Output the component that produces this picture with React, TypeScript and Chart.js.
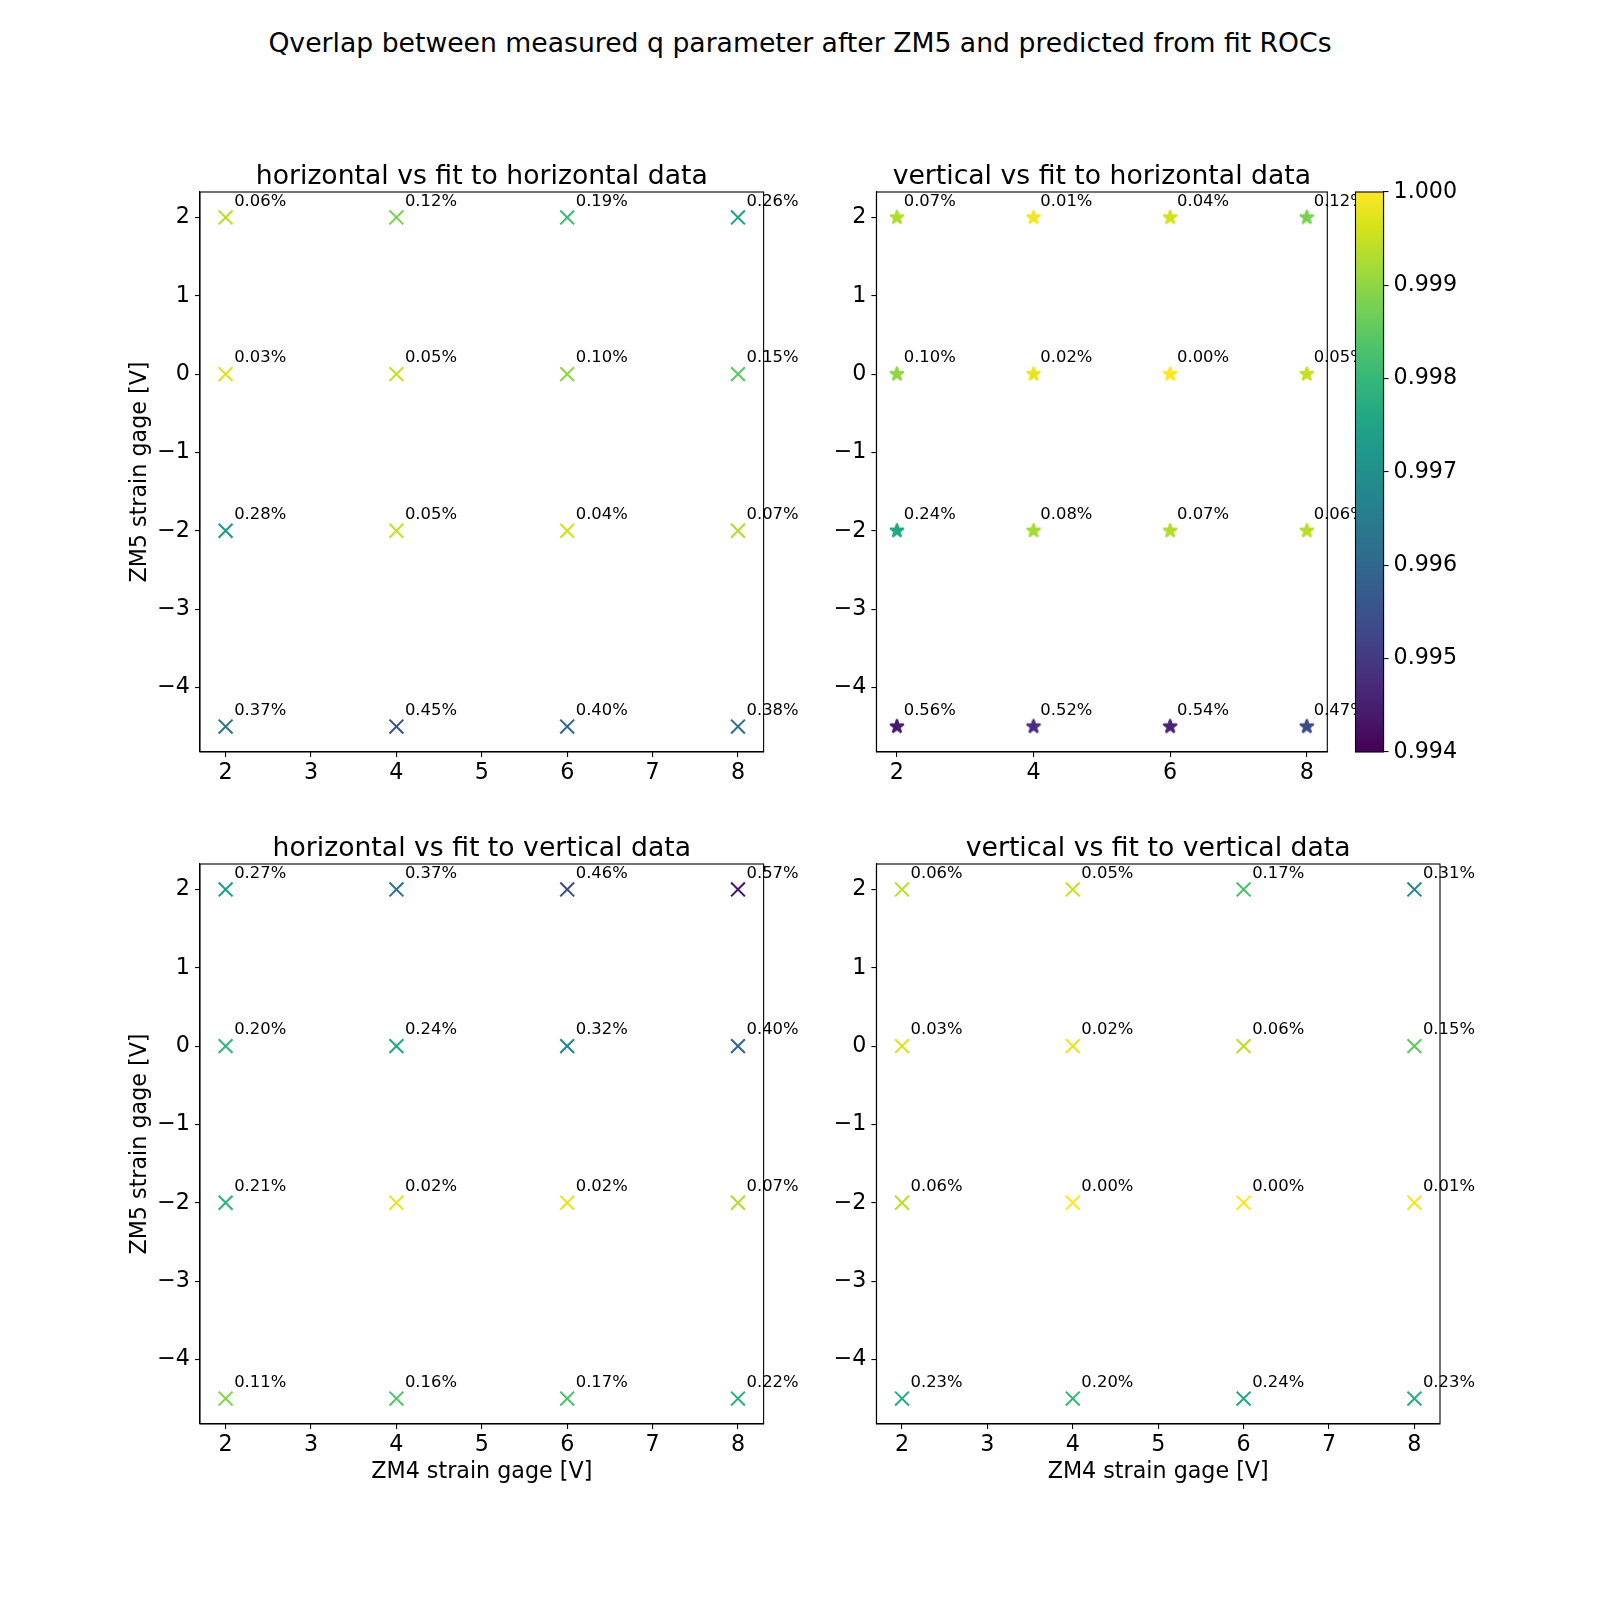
import React, { useEffect, useRef } from 'react';
import { Chart, registerables } from 'chart.js';

Chart.register(...registerables);

// ---------------- data ----------------
const xPositions = [2, 4, 6, 8];
const yPositions = [2, 0, -2, -4.5];

// percent deviation of overlap (1 - overlap) * 100, rows follow yPositions, columns follow xPositions
const hFitH = [
  [0.06, 0.12, 0.19, 0.26],
  [0.03, 0.05, 0.1, 0.15],
  [0.28, 0.05, 0.04, 0.07],
  [0.37, 0.45, 0.4, 0.38],
];
const vFitH = [
  [0.07, 0.01, 0.04, 0.12],
  [0.1, 0.02, 0.0, 0.05],
  [0.24, 0.08, 0.07, 0.06],
  [0.56, 0.52, 0.54, 0.47],
];
const hFitV = [
  [0.27, 0.37, 0.46, 0.57],
  [0.2, 0.24, 0.32, 0.4],
  [0.21, 0.02, 0.02, 0.07],
  [0.11, 0.16, 0.17, 0.22],
];
const vFitV = [
  [0.06, 0.05, 0.17, 0.31],
  [0.03, 0.02, 0.06, 0.15],
  [0.06, 0.0, 0.0, 0.01],
  [0.23, 0.2, 0.24, 0.23],
];

const xTicksFull = [2, 3, 4, 5, 6, 7, 8];
const xTicksEven = [2, 4, 6, 8];
const yTicks = [-4, -3, -2, -1, 0, 1, 2];
const cbTicks = [0.994, 0.995, 0.996, 0.997, 0.998, 0.999, 1.0];

const X_MIN = 1.7;
const X_MAX = 8.3;
const Y_MIN = -4.825;
const Y_MAX = 2.325;
const C_MIN = 0.994;
const C_MAX = 1.0;

const SUPTITLE = 'Qverlap between measured q parameter after ZM5 and predicted from fit ROCs';
const X_LABEL = 'ZM4 strain gage [V]';
const Y_LABEL = 'ZM5 strain gage [V]';

// ---------------- styling ----------------
const FAMILY = "'DejaVu Sans', sans-serif";
const TICK_PX = 22.22;
const TITLE_PX = 26.67;
const LABEL_PX = 22.22;
const ANNOT_PX = 16.4;
const LINE_W = 1.1;
const ANNOT_DX = 0.1;
const ANNOT_DY = 0.15;

const VIRIDIS = [
  '#440154', '#481a6c', '#472f7d', '#414487', '#39568c', '#31688e', '#2a788e', '#23888e',
  '#1f988b', '#22a884', '#35b779', '#54c568', '#7ad151', '#a5db36', '#d2e21b', '#fde725',
];

function hexToRgb(h: string) {
  return [parseInt(h.slice(1, 3), 16), parseInt(h.slice(3, 5), 16), parseInt(h.slice(5, 7), 16)];
}
function viridis(t: number) {
  const tt = Math.max(0, Math.min(1, t));
  const pos = tt * (VIRIDIS.length - 1);
  const i = Math.min(Math.floor(pos), VIRIDIS.length - 2);
  const f = pos - i;
  const a = hexToRgb(VIRIDIS[i]);
  const b = hexToRgb(VIRIDIS[i + 1]);
  const c = a.map((v, k) => Math.round(v + (b[k] - v) * f));
  return `rgb(${c[0]},${c[1]},${c[2]})`;
}
function colorForPct(p: number) {
  const v = 1 - p / 100;
  return viridis((v - C_MIN) / (C_MAX - C_MIN));
}

type Rect = { l: number; t: number; r: number; b: number };
type Box = { x: number; y: number; w: number; h: number };
type Panel = {
  title: string;
  pct: number[][];
  marker: 'x' | 'star';
  ax: Rect;
  canvas: Box;
  xTicks: number[];
  showX: boolean;
  showY: boolean;
};

const PANELS: Panel[] = [
  {
    title: 'horizontal vs fit to horizontal data',
    pct: hFitH,
    marker: 'x',
    ax: { l: 200, t: 192, r: 763.6, b: 752 },
    canvas: { x: 70, y: 140, w: 770, h: 660 },
    xTicks: xTicksFull,
    showX: false,
    showY: true,
  },
  {
    title: 'vertical vs fit to horizontal data',
    pct: vFitH,
    marker: 'star',
    ax: { l: 876.4, t: 192, r: 1327.3, b: 752 },
    canvas: { x: 816, y: 140, w: 560, h: 660 },
    xTicks: xTicksEven,
    showX: false,
    showY: false,
  },
  {
    title: 'horizontal vs fit to vertical data',
    pct: hFitV,
    marker: 'x',
    ax: { l: 200, t: 864, r: 763.6, b: 1424 },
    canvas: { x: 70, y: 812, w: 770, h: 700 },
    xTicks: xTicksFull,
    showX: true,
    showY: true,
  },
  {
    title: 'vertical vs fit to vertical data',
    pct: vFitV,
    marker: 'x',
    ax: { l: 876.4, t: 864, r: 1440, b: 1424 },
    canvas: { x: 816, y: 812, w: 700, h: 700 },
    xTicks: xTicksFull,
    showX: true,
    showY: false,
  },
];

const CB_AX: Rect = { l: 1355.5, t: 192, r: 1383.5, b: 752 };
const CB_CANVAS: Box = { x: 1350, y: 160, w: 130, h: 630 };

function makeStar(color: string) {
  const c = document.createElement('canvas');
  c.width = 22;
  c.height = 22;
  const ctx = c.getContext('2d')!;
  const R = 7.2;
  const r = R * 0.381966;
  ctx.beginPath();
  for (let i = 0; i < 10; i++) {
    const a = -Math.PI / 2 + (i * Math.PI) / 5;
    const rad = i % 2 === 0 ? R : r;
    const px = 11 + rad * Math.cos(a);
    const py = 11 + rad * Math.sin(a);
    if (i === 0) ctx.moveTo(px, py);
    else ctx.lineTo(px, py);
  }
  ctx.closePath();
  ctx.fillStyle = color;
  ctx.fill();
  ctx.strokeStyle = color;
  ctx.lineWidth = 2.08;
  ctx.lineJoin = 'bevel';
  ctx.stroke();
  return c;
}

const tickFont = { family: FAMILY, size: TICK_PX };
const gridOpts = {
  display: true,
  drawOnChartArea: false,
  drawTicks: true,
  tickLength: 5,
  color: '#000',
  lineWidth: LINE_W,
  tickColor: '#000',
  tickWidth: LINE_W,
};
const borderOpts = { display: true, color: '#000', width: LINE_W };

function fmtY(v: number) {
  return v < 0 ? '\u2212' + Math.abs(v) : String(v);
}

function makePanel(canvas: HTMLCanvasElement, p: Panel) {
  const points: { x: number; y: number; pct: number }[] = [];
  yPositions.forEach((y, r) => {
    xPositions.forEach((x, c) => {
      points.push({ x, y, pct: p.pct[r][c] });
    });
  });
  const colors = points.map((pt) => colorForPct(pt.pct));
  const pointStyle: any = p.marker === 'x' ? 'crossRot' : colors.map((c) => makeStar(c));

  const canvasR = p.canvas.x + p.canvas.w;
  const canvasB = p.canvas.y + p.canvas.h;

  const framePlugin = {
    id: 'frame',
    beforeDatasetsDraw(chart: any) {
      const { ctx, chartArea: a } = chart;
      ctx.save();
      ctx.strokeStyle = '#000';
      ctx.lineWidth = LINE_W;
      ctx.strokeRect(a.left, a.top, a.right - a.left, a.bottom - a.top);
      ctx.restore();
    },
  };
  const annotPlugin = {
    id: 'annot',
    afterDatasetsDraw(chart: any) {
      const { ctx } = chart;
      const xs = chart.scales.x;
      const ys = chart.scales.y;
      ctx.save();
      ctx.font = `${ANNOT_PX}px ${FAMILY}`;
      ctx.fillStyle = '#000';
      ctx.textAlign = 'left';
      ctx.textBaseline = 'alphabetic';
      chart.data.datasets[0].data.forEach((d: any) => {
        ctx.fillText(
          d.pct.toFixed(2) + '%',
          xs.getPixelForValue(d.x + ANNOT_DX),
          ys.getPixelForValue(d.y + ANNOT_DY)
        );
      });
      ctx.restore();
    },
  };
  const titlePlugin = {
    id: 'panelTitle',
    afterDraw(chart: any) {
      const { ctx, chartArea: a } = chart;
      ctx.save();
      ctx.font = `${TITLE_PX}px ${FAMILY}`;
      ctx.fillStyle = '#000';
      ctx.textAlign = 'center';
      ctx.textBaseline = 'alphabetic';
      ctx.fillText(p.title, (a.left + a.right) / 2, a.top - 8.33);
      ctx.restore();
    },
  };

  return new Chart(canvas, {
    type: 'scatter',
    data: {
      datasets: [
        {
          data: points,
          pointStyle,
          pointRadius: 9.8,
          pointHoverRadius: 9.8,
          pointBorderWidth: p.marker === 'x' ? 2.08 : 0,
          pointBorderColor: colors,
          pointBackgroundColor: colors,
        } as any,
      ],
    },
    options: {
      responsive: false,
      animation: false,
      events: [],
      layout: {
        padding: { left: 0, top: p.ax.t - p.canvas.y, right: canvasR - p.ax.r, bottom: 0 },
      },
      plugins: {
        legend: { display: false },
        tooltip: { enabled: false },
        title: { display: false },
      },
      scales: {
        x: {
          type: 'linear',
          min: X_MIN,
          max: X_MAX,
          afterFit: (s: any) => {
            s.height = canvasB - p.ax.b;
          },
          afterBuildTicks: (s: any) => {
            s.ticks = p.xTicks.map((v) => ({ value: v }));
          },
          ticks: {
            font: tickFont,
            color: '#000',
            padding: 3,
            autoSkip: false,
            maxRotation: 0,
            callback: (v: any) => String(v),
          },
          grid: gridOpts,
          border: borderOpts,
          title: {
            display: p.showX,
            text: X_LABEL,
            color: '#000',
            font: { family: FAMILY, size: LABEL_PX },
            padding: { top: 4, bottom: 26.4 },
          },
        },
        y: {
          type: 'linear',
          min: Y_MIN,
          max: Y_MAX,
          afterFit: (s: any) => {
            s.width = p.ax.l - p.canvas.x;
          },
          afterBuildTicks: (s: any) => {
            s.ticks = yTicks.map((v) => ({ value: v }));
          },
          ticks: {
            font: tickFont,
            color: '#000',
            padding: 5,
            autoSkip: false,
            callback: (v: any) => fmtY(Number(v)),
          },
          grid: gridOpts,
          border: borderOpts,
          title: {
            display: p.showY,
            text: Y_LABEL,
            color: '#000',
            font: { family: FAMILY, size: LABEL_PX },
            padding: { top: 57, bottom: 4 },
          },
        },
      },
    } as any,
    plugins: [framePlugin, annotPlugin, titlePlugin],
  });
}

function makeColorbar(canvas: HTMLCanvasElement) {
  const gradPlugin = {
    id: 'cbGradient',
    beforeDatasetsDraw(chart: any) {
      const { ctx, chartArea: a } = chart;
      const g = ctx.createLinearGradient(0, a.bottom, 0, a.top);
      VIRIDIS.forEach((c, i) => g.addColorStop(i / (VIRIDIS.length - 1), c));
      ctx.save();
      ctx.fillStyle = g;
      ctx.fillRect(a.left, a.top, a.right - a.left, a.bottom - a.top);
      ctx.strokeStyle = '#000';
      ctx.lineWidth = LINE_W;
      ctx.strokeRect(a.left, a.top, a.right - a.left, a.bottom - a.top);
      ctx.restore();
    },
  };
  return new Chart(canvas, {
    type: 'scatter',
    data: { datasets: [{ data: [] }] },
    options: {
      responsive: false,
      animation: false,
      events: [],
      layout: {
        padding: {
          left: CB_AX.l - CB_CANVAS.x,
          top: CB_AX.t - CB_CANVAS.y,
          right: 0,
          bottom: CB_CANVAS.y + CB_CANVAS.h - CB_AX.b,
        },
      },
      plugins: {
        legend: { display: false },
        tooltip: { enabled: false },
        title: { display: false },
      },
      scales: {
        x: { type: 'linear', display: false, min: 0, max: 1 },
        y: {
          type: 'linear',
          position: 'right',
          min: C_MIN,
          max: C_MAX,
          afterFit: (s: any) => {
            s.width = CB_CANVAS.x + CB_CANVAS.w - CB_AX.r;
          },
          afterBuildTicks: (s: any) => {
            s.ticks = cbTicks.map((v) => ({ value: v }));
          },
          ticks: {
            font: tickFont,
            color: '#000',
            padding: 5,
            autoSkip: false,
            callback: (v: any) => Number(v).toFixed(3),
          },
          grid: gridOpts,
          border: borderOpts,
        },
      },
    } as any,
    plugins: [gradPlugin],
  });
}

export default function App() {
  const panelRefs = useRef<(HTMLCanvasElement | null)[]>([]);
  const cbRef = useRef<HTMLCanvasElement | null>(null);

  useEffect(() => {
    document.body.style.margin = '0';
    const charts: Chart[] = [];
    PANELS.forEach((p, i) => {
      const c = panelRefs.current[i];
      if (c) charts.push(makePanel(c, p));
    });
    if (cbRef.current) charts.push(makeColorbar(cbRef.current));
    return () => {
      charts.forEach((c) => c.destroy());
    };
  }, []);

  return (
    <div
      style={{
        position: 'relative',
        width: 1600,
        height: 1600,
        background: '#fff',
        overflow: 'hidden',
        fontFamily: FAMILY,
      }}
    >
      <div
        style={{
          position: 'absolute',
          left: 0,
          top: 27,
          width: 1600,
          textAlign: 'center',
          fontSize: TITLE_PX,
          lineHeight: '32px',
          color: '#000',
          whiteSpace: 'nowrap',
        }}
      >
        {SUPTITLE}
      </div>
      {PANELS.map((p, i) => (
        <canvas
          key={i}
          ref={(el) => {
            panelRefs.current[i] = el;
          }}
          width={p.canvas.w}
          height={p.canvas.h}
          style={{
            position: 'absolute',
            left: p.canvas.x,
            top: p.canvas.y,
            width: p.canvas.w,
            height: p.canvas.h,
          }}
        />
      ))}
      <canvas
        ref={cbRef}
        width={CB_CANVAS.w}
        height={CB_CANVAS.h}
        style={{
          position: 'absolute',
          left: CB_CANVAS.x,
          top: CB_CANVAS.y,
          width: CB_CANVAS.w,
          height: CB_CANVAS.h,
        }}
      />
    </div>
  );
}
